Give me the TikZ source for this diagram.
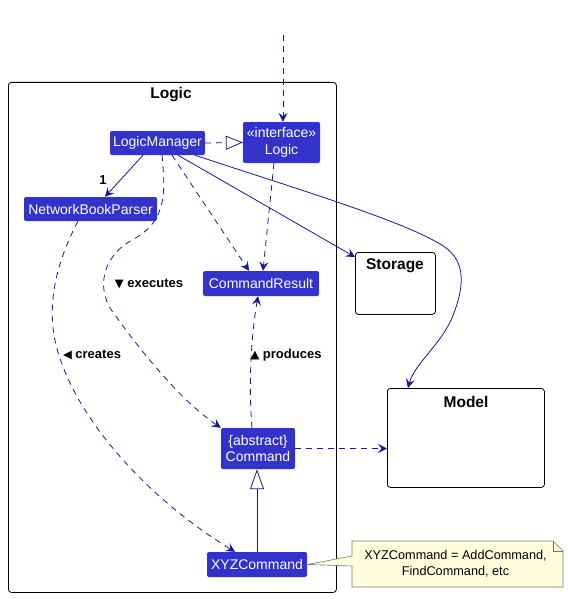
\documentclass[tikz,border=0pt]{standalone}
\usepackage{fontspec}
\setmainfont{Liberation Sans}
\newfontfamily\symfont{DejaVu Sans}
\newcommand\trifont{\symfont\fontsize{11.5}{13}\selectfont}
\usetikzlibrary{arrows.meta}
\definecolor{umlblue}{RGB}{51,51,204}
\definecolor{umlline}{RGB}{24,24,150}
\definecolor{notefill}{RGB}{254,254,221}
\definecolor{noteline}{RGB}{120,120,120}
\begin{document}
\begin{tikzpicture}[x=1pt,y=-1pt,
  cls/.style={fill=umlblue, text=white, rounded corners=2pt, font=\fontsize{14}{16.5}\selectfont, inner sep=0pt, align=center},
  pkg/.style={draw=black, line width=0.8pt, rounded corners=3pt, fill=white},
  pkgtitle/.style={font=\bfseries\fontsize{15.5}{18}\selectfont, text=black},
  conn/.style={draw=umlline, line width=0.8pt},
  dep/.style={conn, dash pattern=on 6pt off 5pt},
  arr/.style={-{Stealth[length=9pt,width=9pt,inset=3.5pt]}},
  lbl/.style={font=\bfseries\fontsize{13}{15}\selectfont, text=black},
  notebox/.style={fill=notefill, draw=noteline, line width=0.6pt}
]
\useasboundingbox (0,0) rectangle (567,599);
\fill[white] (0,0) rectangle (567,599);

% packages
\node[pkg, minimum width=328pt, minimum height=510pt, anchor=north west] (logicpkg) at (8,82) {};
\node[pkgtitle] (logictitle) at (171,95) {Logic};
\node[pkg, minimum width=80pt, minimum height=62pt, anchor=north west] (storage) at (355,252) {};
\node[pkgtitle] (storagetitle) at (395,266) {Storage};
\node[pkg, minimum width=157pt, minimum height=99pt, anchor=north west] (model) at (387,388) {};
\node[pkgtitle] (modeltitle) at (466,402) {Model};

% classes
\node[cls, minimum width=95pt, minimum height=24pt] (lm) at (157.5,143) {LogicManager};
\node[cls, minimum width=77pt, minimum height=41pt] (logic) at (281.5,142.5) {«interface»\\Logic};
\node[cls, minimum width=133pt, minimum height=24pt] (nbp) at (90.5,209) {NetworkBookParser};
\node[cls, minimum width=116pt, minimum height=25pt] (cr) at (261,283.5) {CommandResult};
\node[cls, minimum width=74pt, minimum height=41pt] (cmd) at (258,448.5) {\{abstract\}\\Command};
\node[cls, minimum width=100pt, minimum height=25pt] (xyz) at (257,564.5) {XYZCommand};

% note
\coordinate (topstart) at (283,35);
\draw[notebox] (352,541) -- (553,541) -- (563,551) -- (563,587) -- (352,587) -- (352,566) -- (xyz.east) -- (352,556) -- cycle;
\draw[noteline, line width=0.6pt] (553,541) -- (553,551) -- (563,551);
\node[font=\fontsize{12.7}{16}\selectfont, align=center] (note) at (455.5,564) {XYZCommand = AddCommand,\\FindCommand, etc};

% connectors
\draw[dep, arr] (topstart) -- ([xshift=1.5pt]logic.north);
\draw[dep, -{Triangle[length=17pt,width=14pt,fill=white]}] (lm.east) -- (logic.west);
\draw[conn, arr] ([xshift=-14.5pt]lm.south) -- ([xshift=14.5pt]nbp.north);
\node[lbl] (one) at (103,180) {1};
\draw[dep, arr] ([xshift=14.5pt]lm.south) -- ([xshift=-12pt]cr.north);
\draw[dep, arr] ([xshift=-7.5pt]logic.south) -- ([xshift=2pt]cr.north);
\draw[conn, arr] ([xshift=20.5pt]lm.south) -- ([yshift=-5pt]storage.north west);
\draw[conn, arr] ([xshift=37.5pt]lm.south) .. controls (300,190) and (400,220) .. (440,244)
   .. controls (465,258) and (465,282) .. (455,310)
   .. controls (445,342) and (415,362) .. ([xshift=21pt]model.north west);
\draw[dep, arr] ([xshift=4.5pt]lm.south) .. controls (166,195) and (166,222) .. (132,240)
   .. controls (100,258) and (96,292) .. (115,315)
   .. controls (140,350) and (180,400) .. (cmd.north west);
\node[lbl] (lexec) at (149,284) {{\trifont ▼} executes};
\draw[dep, arr] ([xshift=-12.5pt]nbp.south) .. controls (60,255) and (45,300) .. (56,345)
   .. controls (75,420) and (150,500) .. ([xshift=-22pt]xyz.north);
\node[lbl] (lcreates) at (92,355) {{\trifont ◀} creates};
\draw[dep, arr] ([xshift=-6pt]cmd.north) .. controls (248,380) and (252,330) .. ([xshift=-3pt]cr.south);
\node[lbl] (lprod) at (286,355) {{\trifont ▲} produces};
\draw[conn, -{Triangle[length=20pt,width=14pt,fill=white]}] (xyz.north) -- (xyz.north |- cmd.south);
\draw[dep, arr] (cmd.east) -- (cmd.east -| model.west);
\end{tikzpicture}
\end{document}
